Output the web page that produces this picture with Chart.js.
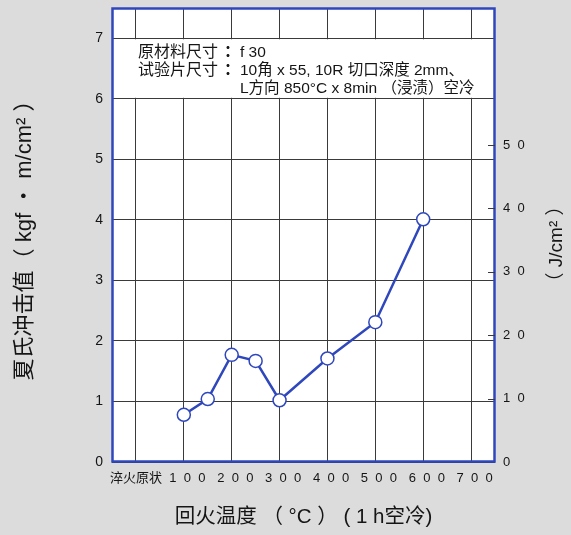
<!DOCTYPE html>
<html><head><meta charset="utf-8">
<script src="https://cdn.jsdelivr.net/npm/chart.js@4"></script>
<style>html,body{margin:0;padding:0;background:#dcdcdc;}#wrap{width:571px;height:535px;}</style>
</head><body><div id="wrap"><canvas id="c" width="571" height="535"></canvas></div>
<script>
// ---- data ----
const temps = [100, 150, 200, 250, 300, 400, 500, 600];
const charpy = [0.78, 1.04, 1.77, 1.67, 1.02, 1.71, 2.31, 4.01];
const xTickValues = [0, 100, 200, 300, 400, 500, 600, 700];
const xTickLabels = ['淬火原状', '  1  0  0', '  2  0  0', '  3  0  0', '  4  0  0', '  5  0  0', '  6  0  0', '  7  0  0'];
const yTickValues = [0, 1, 2, 3, 4, 5, 6, 7];
const y2TickValues = [0, 10, 20, 30, 40, 50];
const y2TickLabels = ['0', '1  0', '2  0', '3  0', '4  0', '5  0'];
const noteKeys = ['原材料尺寸', '试验片尺寸', ''];
const noteValues = ['f 30', '10角 x 55, 10R 切口深度 2mm、', 'L方向 850°C x 8min （浸渍）空冷'];
const yTitle = '夏氏冲击值（ kgf ・ m/cm² ）';
const y2Title = '（ J/cm² ）';
const xTitle = '回火温度 （ °C ） ( 1 h空冷)';

const FONT = "'Liberation Sans', 'Noto Sans CJK SC', sans-serif";
const BLUE = '#2f47bd';
const GRID = '#3a3a3a';
const TEXT = '#151515';

const noPad = s => { s.paddingTop = 0; s.paddingBottom = 0; s.paddingLeft = 0; s.paddingRight = 0; };

const decor = {
  id: 'decor',
  beforeDraw(chart) {
    const {ctx, chartArea: a} = chart;
    ctx.save();
    ctx.fillStyle = '#ffffff';
    ctx.fillRect(a.left, a.top, a.right - a.left, a.bottom - a.top);
    ctx.restore();
  },
  beforeDatasetsDraw(chart) {
    const {ctx, chartArea: a} = chart;
    const y = chart.scales.y;
    const y7 = y.getPixelForValue(7), y6 = y.getPixelForValue(6);
    ctx.save();
    ctx.fillStyle = '#ffffff';
    ctx.fillRect(a.left, y7 + 1, a.right - a.left, y6 - y7 - 2);
    ctx.fillStyle = TEXT;
    ctx.textBaseline = 'middle';
    const rows = [y7 + 14, y7 + 32, y7 + 50];
    rows.forEach((ry, i) => {
      if (noteKeys[i]) {
        ctx.textAlign = 'left';
        ctx.font = '16px ' + FONT;
        ctx.fillText(noteKeys[i], a.left + 26, ry);
        ctx.textAlign = 'center';
        ctx.font = 'bold 16px ' + FONT;
        ctx.fillText('：', a.left + 120, ry);
      }
      ctx.textAlign = 'left';
      ctx.font = '15.5px ' + FONT;
      ctx.fillText(noteValues[i], a.left + 128, ry);
    });
    ctx.restore();
  },
  afterDraw(chart) {
    const {ctx, chartArea: a} = chart;
    ctx.save();
    ctx.strokeStyle = BLUE;
    ctx.lineWidth = 2.5;
    ctx.strokeRect(a.left + 0.5, a.top + 0.5, a.right - a.left - 1, a.bottom - a.top - 1);
    // right axis inward ticks
    const y2 = chart.scales.y2;
    ctx.strokeStyle = GRID;
    ctx.lineWidth = 1;
    y2TickValues.forEach(v => {
      if (v === 0) return;
      const p = Math.round(y2.getPixelForValue(v)) + 0.5;
      ctx.beginPath();
      ctx.moveTo(a.right - 7, p);
      ctx.lineTo(a.right, p);
      ctx.stroke();
    });
    // right title (reads bottom to top)
    ctx.fillStyle = TEXT;
    ctx.font = '19px ' + FONT;
    ctx.textAlign = 'center';
    ctx.textBaseline = 'middle';
    ctx.translate(557, (y2.top + y2.bottom) / 2 + 9);
    ctx.rotate(-Math.PI / 2);
    ctx.fillText(y2Title, 0, 0);
    ctx.restore();
  }
};

new Chart(document.getElementById('c'), {
  type: 'line',
  data: {
    datasets: [{
      data: temps.map((t, i) => ({x: t, y: charpy[i]})),
      borderColor: BLUE,
      borderWidth: 2.5,
      pointRadius: 6.5,
      pointBackgroundColor: '#ffffff',
      pointBorderColor: BLUE,
      pointBorderWidth: 1.5,
      tension: 0,
      yAxisID: 'y'
    }]
  },
  options: {
    responsive: false,
    animation: false,
    layout: {padding: {top: 8, left: 0, right: 0, bottom: 0}},
    plugins: {legend: {display: false}, tooltip: {enabled: false}},
    scales: {
      x: {
        type: 'linear', min: -50, max: 750,
        afterBuildTicks: s => { s.ticks = xTickValues.map(v => ({value: v})); },
        afterFit: s => { s.height = 73; noPad(s); },
        ticks: {
          autoSkip: false, maxRotation: 0, padding: 9, color: TEXT,
          font: {family: FONT, size: 13},
          callback: v => xTickLabels[xTickValues.indexOf(v)]
        },
        grid: {color: GRID, lineWidth: 1, drawTicks: false},
        border: {display: false},
        title: {display: true, text: xTitle, color: TEXT, font: {family: FONT, size: 20.5}, padding: {top: 0, bottom: 5}}
      },
      y: {
        position: 'left', min: 0, max: 7.5,
        afterBuildTicks: s => { s.ticks = yTickValues.map(v => ({value: v})); },
        afterFit: s => { s.width = 112; noPad(s); },
        ticks: {padding: 9, color: TEXT, font: {family: FONT, size: 14}},
        grid: {color: GRID, lineWidth: 1, drawTicks: false},
        border: {display: false},
        title: {display: true, text: yTitle, color: TEXT, font: {family: FONT, size: 22}, padding: {top: 12, bottom: 0}}
      },
      y2: {
        position: 'right', min: 0, max: 71.6,
        afterBuildTicks: s => { s.ticks = y2TickValues.map(v => ({value: v})); },
        afterFit: s => { s.width = 76; noPad(s); },
        ticks: {
          padding: 8, color: TEXT, font: {family: FONT, size: 13},
          callback: v => y2TickLabels[y2TickValues.indexOf(v)]
        },
        grid: {display: false, drawTicks: false},
        border: {display: false}
      }
    }
  },
  plugins: [decor]
});
</script>
</body></html>
